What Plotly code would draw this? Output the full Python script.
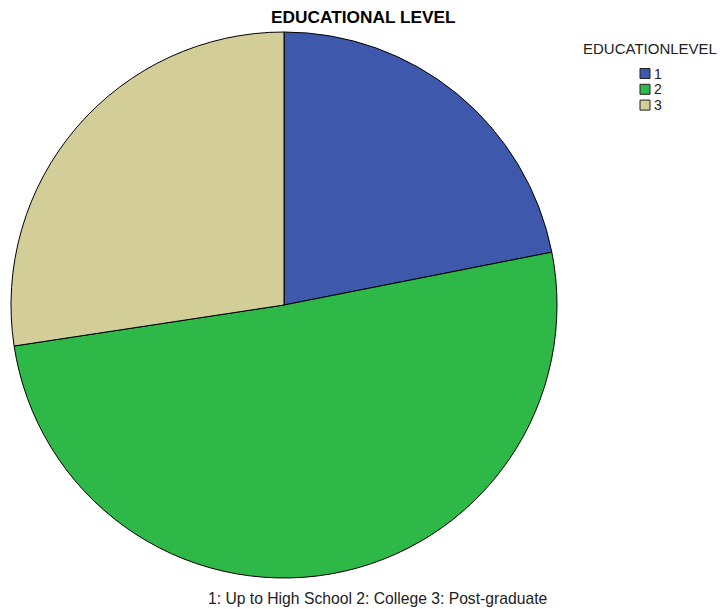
import plotly.graph_objects as go

labels = ["1", "2", "3"]
values = [21.9, 50.7, 27.4]
colors = ["#3E58AC", "#2EB848", "#D3CE97"]
legend_title = "EDUCATIONLEVEL"
chart_title = "EDUCATIONAL LEVEL"
footnote = "1: Up to High School 2: College 3: Post-graduate"

W, H = 724, 609
fig = go.Figure(go.Pie(
    labels=labels, values=values, sort=False, direction="clockwise", rotation=0,
    marker=dict(colors=colors, line=dict(color="#000000", width=1)),
    textinfo="none", hoverinfo="label+percent", showlegend=False,
    domain=dict(x=[11 / W, 557 / W], y=[1 - 578 / H, 1 - 32 / H]),
))

def px(x):
    return x / W

def py(y):
    return 1 - y / H

annotations = [
    dict(text="<b>" + chart_title + "</b>", x=px(363.5), y=py(17), showarrow=False,
         font=dict(size=17.3, color="#000000"), xanchor="center", yanchor="middle"),
    dict(text=footnote, x=px(377.5), y=py(598), showarrow=False,
         font=dict(size=15.7, color="#222222"), xanchor="center", yanchor="middle"),
    dict(text=legend_title, x=px(650), y=py(48), showarrow=False,
         font=dict(size=15, color="#222222"), xanchor="center", yanchor="middle"),
]
shapes = []
for i, (lab, col) in enumerate(zip(labels, colors)):
    cy = 73.5 + 15.8 * i
    shapes.append(dict(type="rect", xref="paper", yref="paper",
                       x0=px(640), x1=px(650), y0=py(cy - 5), y1=py(cy + 5),
                       fillcolor=col, line=dict(color="#222222", width=1)))
    annotations.append(dict(text=lab, x=px(652), y=py(cy), showarrow=False,
                            font=dict(size=14, color="#222222"), xanchor="left", yanchor="middle"))

for a in annotations:
    a.update(xref="paper", yref="paper")

fig.update_layout(
    width=W, height=H, margin=dict(l=0, r=0, t=0, b=0),
    paper_bgcolor="white", plot_bgcolor="white",
    font=dict(family="Liberation Sans, Arial, sans-serif", color="#222222"),
    showlegend=False, annotations=annotations, shapes=shapes,
)
fig.write_html("out.html", config={"displayModeBar": False},
               post_script="document.body.style.margin='0';document.body.style.padding='0';")
